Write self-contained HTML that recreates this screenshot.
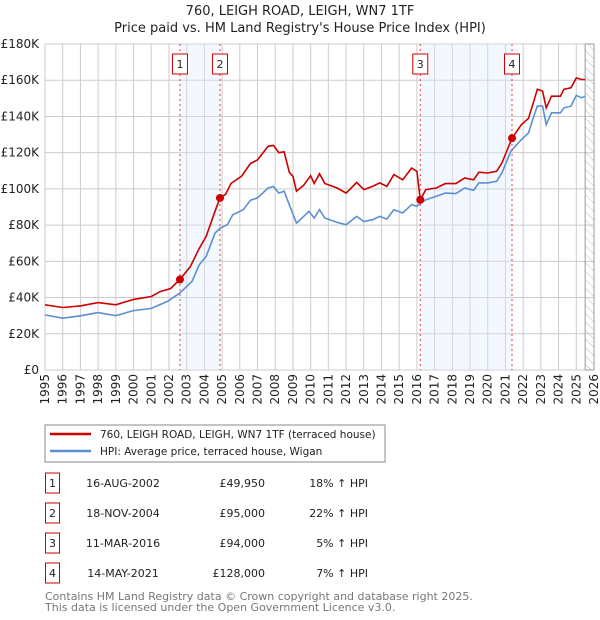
<!DOCTYPE html>
<html><head><meta charset="utf-8"><style>
body{margin:0;background:#fff;width:600px;height:620px;overflow:hidden;font-family:"DejaVu Sans","Liberation Sans",sans-serif;}
svg{position:absolute;left:0;top:0}
</style></head><body>
<svg id="c" width="600" height="620" xmlns="http://www.w3.org/2000/svg">
<text x="300" y="15" text-anchor="middle" font-size="13" fill="#222">760, LEIGH ROAD, LEIGH, WN7 1TF</text>
<text x="300" y="32" text-anchor="middle" font-size="13" fill="#222">Price paid vs. HM Land Registry's House Price Index (HPI)</text>
<g id="grid"></g><g id="shade"></g><g id="series"></g><g id="axes"></g>
<rect x="45" y="425" width="340" height="37" fill="#fff" stroke="#888"/>
<line x1="50" y1="434" x2="91" y2="434" stroke="#cc0000" stroke-width="2.5"/>
<text x="100" y="438" font-size="10.5" fill="#222">760, LEIGH ROAD, LEIGH, WN7 1TF (terraced house)</text>
<line x1="50" y1="451" x2="91" y2="451" stroke="#5b8fd4" stroke-width="2.5"/>
<text x="100" y="455" font-size="10.5" fill="#222">HPI: Average price, terraced house, Wigan</text>
<g id="table" font-size="11" fill="#222"></g>
<text x="45" y="600" font-size="11" fill="#777">Contains HM Land Registry data © Crown copyright and database right 2025.</text>
<text x="45" y="611" font-size="11" fill="#777">This data is licensed under the Open Government Licence v3.0.</text>
</svg>
<script>
const redYears=[1995.0,1996.0,1997.0,1998.0,1999.0,2000.0,2001.0,2001.5,2002.1,2002.62,2003.2,2003.7,2004.1,2004.6,2004.88,2005.2,2005.5,2006.1,2006.6,2007.0,2007.6,2007.9,2008.2,2008.5,2008.8,2009.0,2009.2,2009.6,2010.0,2010.2,2010.5,2010.8,2011.5,2012.0,2012.6,2013.0,2013.5,2013.9,2014.3,2014.7,2015.2,2015.7,2016.0,2016.19,2016.5,2017.1,2017.6,2018.2,2018.7,2019.2,2019.5,2020.0,2020.5,2020.8,2021.37,2021.9,2022.3,2022.6,2022.8,2023.1,2023.3,2023.6,2024.1,2024.3,2024.7,2025.0,2025.3,2025.5];
const redValues=[36,34.5,35.4,37.2,36,39,40.6,43.3,45,49.95,57,67,73.8,87.6,95,97,103,107,114,116,123.5,124,120,120.5,109,107,98.7,102,107.3,103,108.4,103,100.5,97.7,103.6,99.6,101.4,103.3,101.4,107.9,105,111.5,109.7,94,99.6,100.5,102.9,102.9,106,105,109.2,108.8,109.7,114.3,128,135.5,139,148.4,155,154,144.7,151.2,151.2,155,155.8,161.3,160.4,160.4];
const hpiYears=[1995.0,1996.0,1997.0,1998.0,1999.0,2000.0,2001.0,2001.9,2002.6,2003.3,2003.7,2004.1,2004.6,2004.9,2005.3,2005.6,2006.2,2006.6,2007.0,2007.6,2007.9,2008.2,2008.5,2008.9,2009.2,2009.6,2009.9,2010.2,2010.5,2010.8,2011.5,2012.0,2012.6,2013.0,2013.5,2013.9,2014.3,2014.7,2015.2,2015.7,2016.0,2016.2,2016.5,2017.1,2017.6,2018.2,2018.7,2019.2,2019.5,2020.0,2020.5,2020.8,2021.3,2021.9,2022.3,2022.6,2022.8,2023.1,2023.3,2023.6,2024.1,2024.3,2024.7,2025.0,2025.3,2025.5];
const hpiValues=[30.4,28.6,29.9,31.7,30,32.8,34,37.8,42.4,48.9,58,62.7,75.6,78.4,80.2,85.7,88.5,93.7,95,100.5,101.4,97.7,98.7,88.5,81.1,84.8,87.6,83.9,88.5,83.9,81.5,80.2,84.8,82,83,84.8,83.3,88.5,86.7,91.3,90.4,92.2,94,95.9,97.7,97.4,100.5,99.2,103.3,103.3,104.2,108.8,120.8,127.2,130.9,140.1,145.7,145.7,135.5,142,142,144.7,145.7,151.6,150.3,151.2];
const saleYears=[2002.62,2004.88,2016.19,2021.37];
const saleValues=[49.95,95,94,128];
const saleLabels=["1","2","3","4"];
const saleDates=["16-AUG-2002","18-NOV-2004","11-MAR-2016","14-MAY-2021"];
const salePrices=["£49,950","£95,000","£94,000","£128,000"];
const saleHpi=["18% ↑ HPI","22% ↑ HPI","5% ↑ HPI","7% ↑ HPI"];
const yTicks=[0,20,40,60,80,100,120,140,160,180];
const xTicks=[1995,1996,1997,1998,1999,2000,2001,2002,2003,2004,2005,2006,2007,2008,2009,2010,2011,2012,2013,2014,2015,2016,2017,2018,2019,2020,2021,2022,2023,2024,2025,2026];
const L=45,R=594,T=44,B=370;
const X=y=>L+(y-1995)/31*(R-L);
const Y=v=>B-v/180*(B-T);
const NS="http://www.w3.org/2000/svg";
function mk(p,tag,a){const e=document.createElementNS(NS,tag);for(const k in a)e.setAttribute(k,a[k]);p.appendChild(e);return e;}
const grid=document.getElementById('grid'),shade=document.getElementById('shade'),ser=document.getElementById('series'),ax=document.getElementById('axes'),tb=document.getElementById('table');
for(const t of yTicks){const l=mk(grid,'line',{x1:L,x2:R,y1:Y(t),y2:Y(t),stroke:'#ccc'});


const tx=mk(ax,'text',{x:L-6,y:Y(t)+4,'text-anchor':'end','font-size':12,fill:'#222'});tx.textContent=t===0?'£0':'£'+t+'K';

}
for(const t of xTicks){const l=mk(grid,'line',{x1:X(t),x2:X(t),y1:T,y2:B,stroke:'#ccc'});


const tx=mk(ax,'text',{transform:`translate(${X(t)+4},${B+4}) rotate(-90)`,'text-anchor':'end','font-size':12,fill:'#222'});tx.textContent=t;

}
for(const [a,b] of [[0,1],[2,3]]){const r=mk(shade,'rect',{x:X(saleYears[a]),y:T,width:X(saleYears[b])-X(saleYears[a]),height:B-T,fill:'#dde8fb','fill-opacity':0.35});

}
const defs=mk(shade,'defs',{});const pat=mk(defs,'pattern',{id:'h',width:6,height:6,patternUnits:'userSpaceOnUse',patternTransform:'rotate(-45)'});mk(pat,'line',{x1:0,y1:0,x2:0,y2:6,stroke:'#bbb'});
const hr=mk(shade,'rect',{x:X(2025.5),y:T,width:R-X(2025.5),height:B-T,fill:'url(#h)',stroke:'#999'});


const pts=(xs,vs)=>xs.map((x,i)=>X(x).toFixed(1)+','+Y(vs[i]).toFixed(1)).join(' ');
const hp=mk(ser,'polyline',{points:pts(hpiYears,hpiValues),fill:'none',stroke:'#5b8fd4','stroke-width':1.6});


const rp=mk(ser,'polyline',{points:pts(redYears,redValues),fill:'none',stroke:'#cc0000','stroke-width':1.6});


saleYears.forEach((s,i)=>{
const l=mk(ser,'line',{x1:X(s),x2:X(s),y1:T,y2:B,stroke:'#e04040','stroke-dasharray':'2,3'});


const c=mk(ser,'circle',{cx:X(s),cy:Y(saleValues[i]),r:4,fill:'#cc0000'});


const b=mk(ser,'rect',{x:X(s)-7.5,y:54,width:15,height:20,fill:'#fff',stroke:'#cc0000'});


const t=mk(ser,'text',{x:X(s),y:68,'text-anchor':'middle','font-size':11,fill:'#222'});t.textContent=saleLabels[i];


const y=483+i*30;
const tb1=mk(tb,'rect',{x:45.5,y:y-10,width:14,height:20,fill:'#fff',stroke:'#cc0000'});


const n=mk(tb,'text',{x:52.5,y:y+4,'text-anchor':'middle'});n.textContent=saleLabels[i];


const d=mk(tb,'text',{x:123,y:y+4,'text-anchor':'middle'});d.textContent=saleDates[i];


const p=mk(tb,'text',{x:265,y:y+4,'text-anchor':'end'});p.textContent=salePrices[i];


const h=mk(tb,'text',{x:368,y:y+4,'text-anchor':'end'});h.textContent=saleHpi[i];


});
</script>
</body></html>
